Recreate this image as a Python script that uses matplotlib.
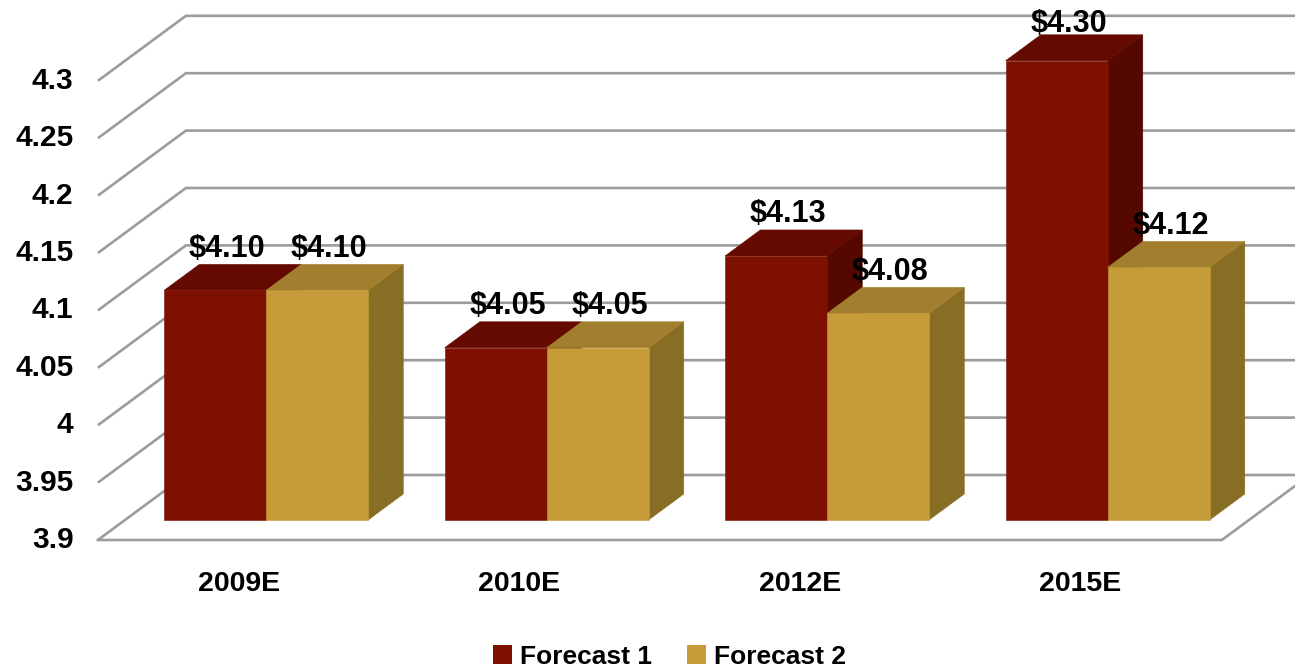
import matplotlib
matplotlib.use("Agg")
import matplotlib.pyplot as plt
from matplotlib.patches import Polygon, Patch

# ---------------- data ----------------
categories = ["2009E", "2010E", "2012E", "2015E"]
forecast_1 = [4.10, 4.05, 4.13, 4.30]
forecast_2 = [4.10, 4.05, 4.08, 4.12]
series_names = ["Forecast 1", "Forecast 2"]
y_ticks = [3.9, 3.95, 4.0, 4.05, 4.1, 4.15, 4.2, 4.25, 4.3]

# ---------------- style ----------------
FONT = "Liberation Sans"
RED = ("#7E1000", "#650A00", "#550800")      # front, top, side
GOLD = ("#C59C39", "#A17F2E", "#886D24")
GRID = "#9C9C9C"

# oblique "3d" projection in data units
DX = 88 / 280.5      # full depth, x shift
DY = 65 / 1148       # full depth, y shift
D0, D1 = 0.3077, 0.7077   # bar front / back depth
BAR_W = 0.3636
BASE = y_ticks[0]
FLOOR_L, FLOOR_R = -0.503, 3.504
Y_TOP = 3.9 + 540 / 1148
LABEL_MAX = Y_TOP - 40 / 1148   # keep top label inside the picture

fig = plt.figure(figsize=(12.95, 6.71), dpi=100)
ax = fig.add_axes([0, 0, 1, 1])
ax.set_xlim(-239 / 280.5, (1295 - 239) / 280.5)
ax.set_ylim(3.9 - 131 / 1148, Y_TOP)
ax.axis("off")


def proj(x, y, d):
    return (x + d * DX, y + d * DY)


# gridlines: left diagonal + back line, floor gets front + right edge too
for t in y_ticks:
    xs = [FLOOR_L, FLOOR_L + DX, FLOOR_R + DX]
    ys = [t, t + DY, t + DY]
    ax.plot(xs, ys, color=GRID, lw=1.9, solid_capstyle="butt", zorder=1)
    ax.text(-0.59, t, f"{t:g}", ha="right", va="center", fontsize=21.5,
            fontweight="bold", family=FONT, zorder=5)
ax.plot([FLOOR_L, FLOOR_R, FLOOR_R + DX], [BASE, BASE, BASE + DY],
        color=GRID, lw=1.9, zorder=1)


def draw_bar(x0, v, cols):
    x1 = x0 + BAR_W
    front = [proj(x0, BASE, D0), proj(x1, BASE, D0), proj(x1, v, D0), proj(x0, v, D0)]
    top = [proj(x0, v, D0), proj(x1, v, D0), proj(x1, v, D1), proj(x0, v, D1)]
    side = [proj(x1, BASE, D0), proj(x1, BASE, D1), proj(x1, v, D1), proj(x1, v, D0)]
    for pts, c in [(side, cols[2]), (top, cols[1]), (front, cols[0])]:
        ax.add_patch(Polygon(pts, closed=True, facecolor=c, edgecolor=c,
                             lw=0.4, zorder=2))
    # label sits above the back edge of the top face
    lx = proj(x0 + BAR_W / 2, v, (D0 + D1) / 2)[0] - 0.02
    ly = min(v + D1 * DY, LABEL_MAX)
    ax.annotate(f"${v:.2f}", (lx, ly), xytext=(0, 5.5), textcoords="offset points",
                ha="center", va="baseline", fontsize=22, fontweight="bold",
                family=FONT, zorder=6)


for i, cat in enumerate(categories):
    draw_bar(i - BAR_W, forecast_1[i], RED)
    draw_bar(i, forecast_2[i], GOLD)
    ax.text(i, BASE - 44 / 1148, cat, ha="center", va="center", fontsize=20.5,
            fontweight="bold", family=FONT)

handles = [Patch(facecolor=RED[0], label=series_names[0]),
           Patch(facecolor=GOLD[0], label=series_names[1])]
ax.legend(handles=handles, loc="center", bbox_to_anchor=(0.517, 0.021), ncol=2,
          frameon=False, handlelength=0.75, handleheight=0.75, handletextpad=0.3,
          columnspacing=1.3, prop={"family": FONT, "weight": "bold", "size": 19})

fig.savefig("out.png", dpi=100)
